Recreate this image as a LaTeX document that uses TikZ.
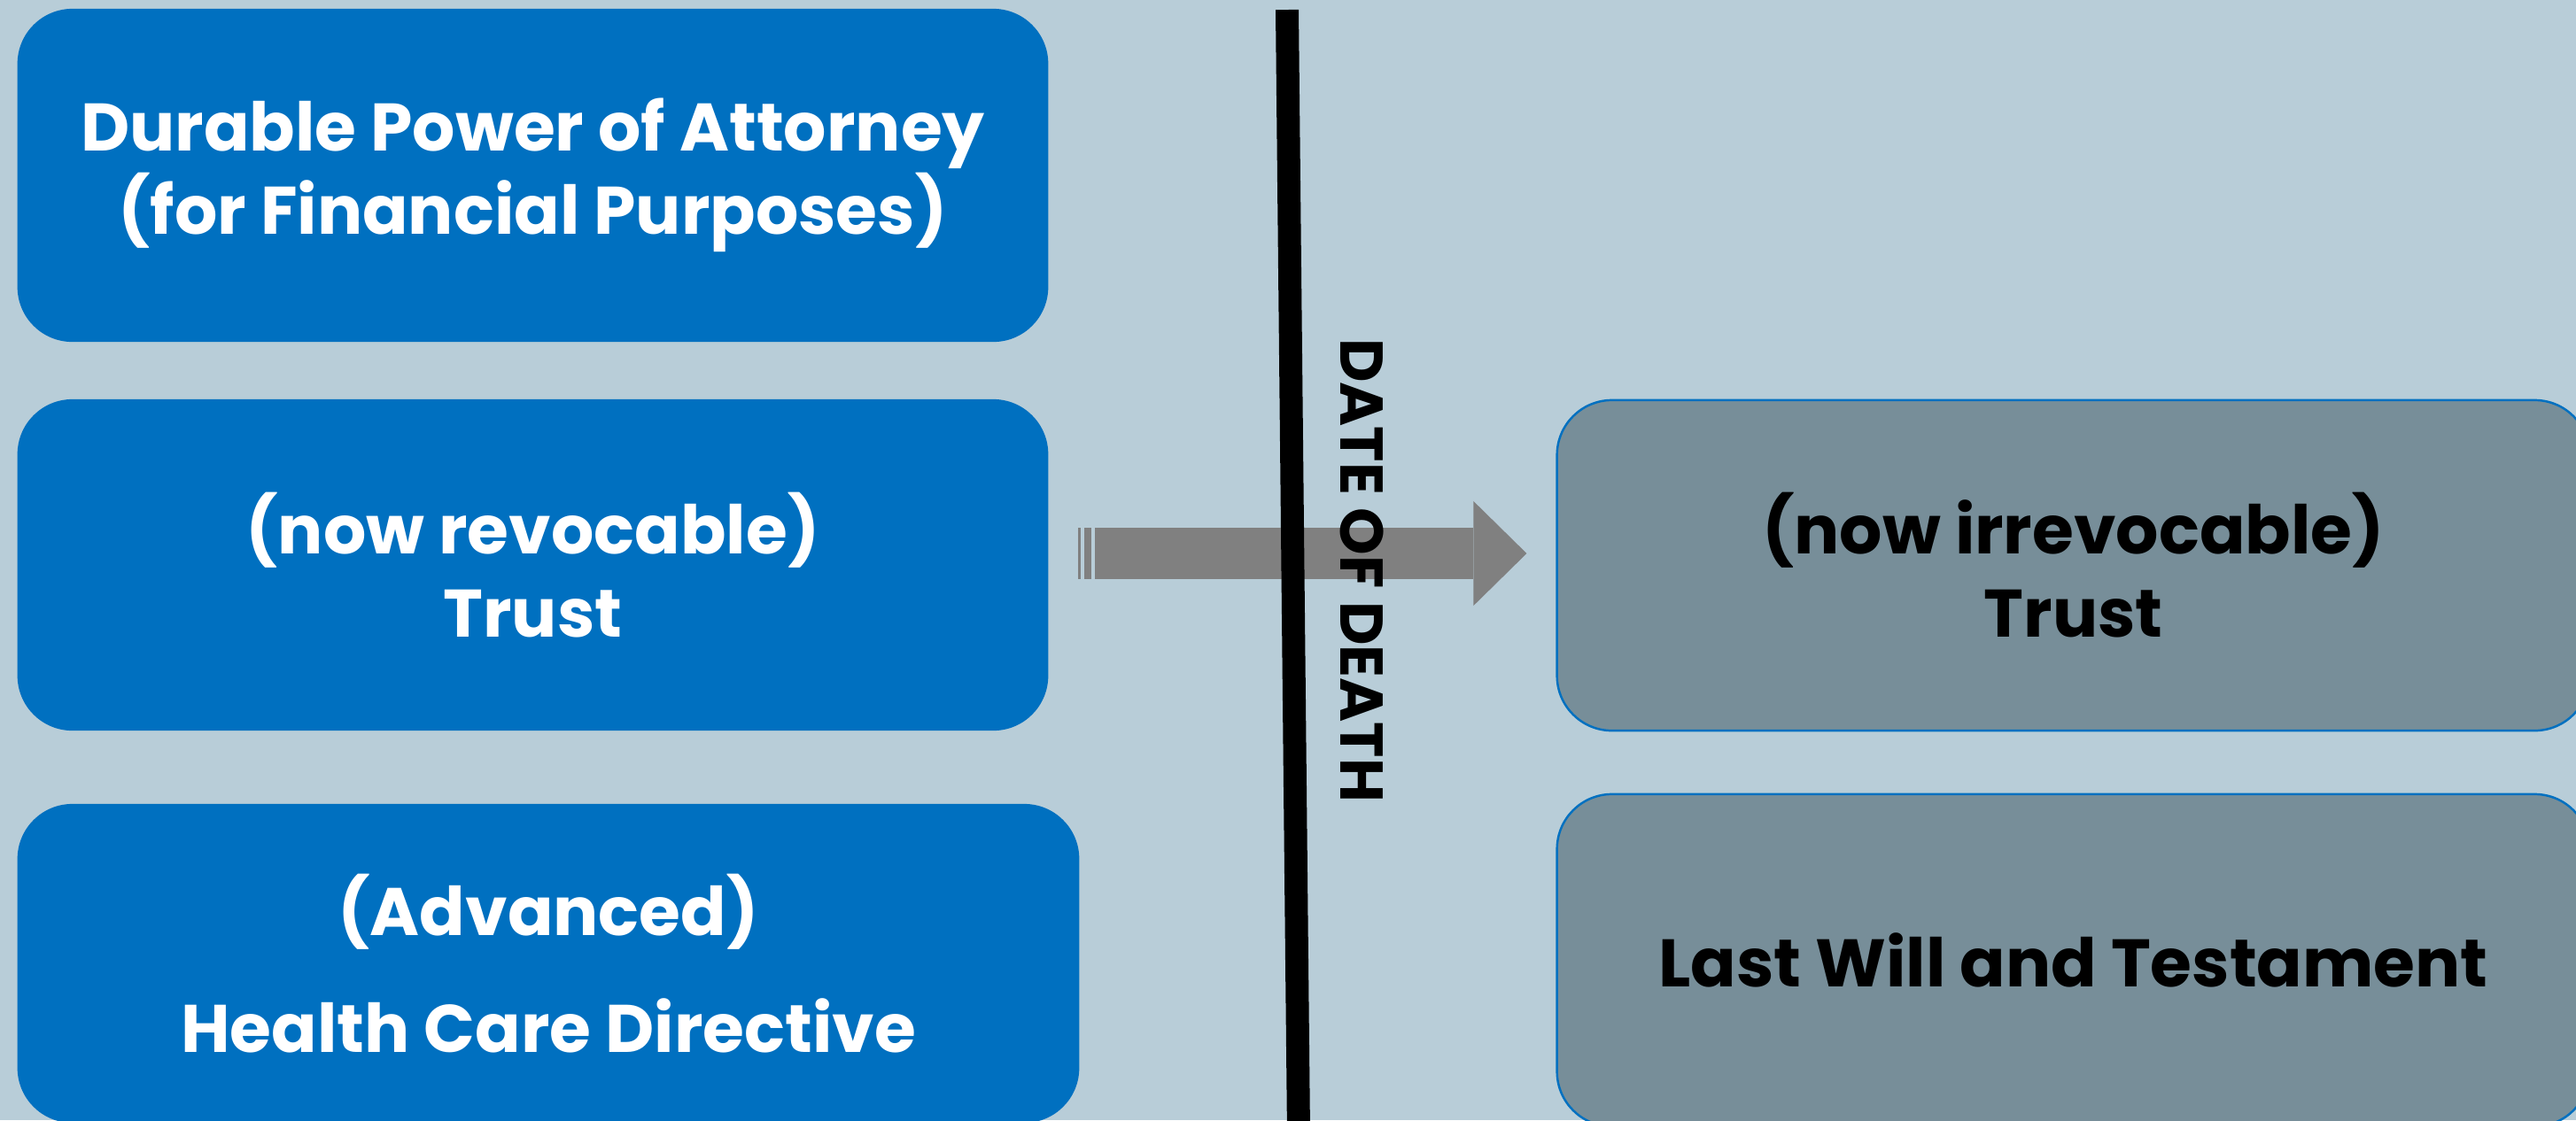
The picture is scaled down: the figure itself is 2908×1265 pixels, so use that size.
\documentclass[tikz,border=0pt]{standalone}
\usepackage{fontspec}
\setmainfont{Poppins}
\usetikzlibrary{positioning,arrows.meta,calc}

\definecolor{bgblue}{RGB}{184,205,216}
\definecolor{boxblue}{RGB}{0,112,192}
\definecolor{boxgray}{RGB}{119,142,153}
\definecolor{arrowgray}{RGB}{128,128,128}

\tikzset{
	docbox/.style={
		fill=boxblue,
		text=white,
		rounded corners=0.62cm,
		align=center,
		inner sep=0pt,
		font=\bfseries\fontsize{21.6}{26.7}\selectfont
	},
	afterbox/.style={docbox, fill=boxgray, draw=boxblue, line width=0.7pt, text=black},
	trustarrow/.style={
		draw=arrowgray,
		line width=0.58cm,
		shorten <=0.52cm,
		shorten >=0.33cm,
		-{Triangle[length=0.6cm,width=1.18cm,line width=0pt]}
	},
	deathline/.style={line width=0.26cm, black},
	deathlabel/.style={font=\bfseries\fontsize{19.4}{24}\selectfont, inner sep=0pt}
}

\begin{document}
\begin{tikzpicture}[x=0.01cm,y=-0.01cm]
		
		\useasboundingbox (0,0) rectangle (2908,1265);
		\clip (0,0) rectangle (2908,1265);
		\fill[bgblue] (0,0) rectangle (2908,1265);
		
		% before death
		\node[docbox, minimum width=11.63cm, minimum height=3.76cm] (poa) at (601.5,198)
		{Durable Power of Attorney\\(for Financial Purposes)};
		
		\node[docbox, minimum width=11.63cm, minimum height=3.74cm] (revtrust) at (601.5,638)
		{(now revocable)\\Trust};
		
		\node[docbox, minimum width=11.98cm, minimum height=3.6cm] (hcd) at (619,1088)
		{(Advanced)\\[0.38cm]Health Care Directive};
		
		% after death
		\node[afterbox, minimum width=11.65cm, minimum height=3.73cm] (irrevtrust) at (2340.5,638.5)
		{(now irrevocable)\\Trust};
		
		\node[afterbox, minimum width=11.65cm, minimum height=3.75cm] (will) at (2340.5,1084.5)
		{Last Will and Testament};
		
		% arrow with stripes
		\fill[arrowgray] ($(revtrust.east)+(33,-42)$) rectangle ++(3,58);
		\fill[arrowgray] ($(revtrust.east)+(40,-42)$) rectangle ++(8,58);
		\draw[trustarrow] ($(revtrust.east)+(0,-13)$) -- ($(irrevtrust.west)+(0,-13.5)$);
		
		% date of death
		\coordinate (deathtop) at (1453,11);
		\coordinate (deathbot) at (1466,1280);
		\draw[deathline] (deathtop) -- (deathbot);
		
		\node[deathlabel, rotate=-90] (death) at (1538,644) {DATE OF DEATH};
		
	\end{tikzpicture}
\end{document}
